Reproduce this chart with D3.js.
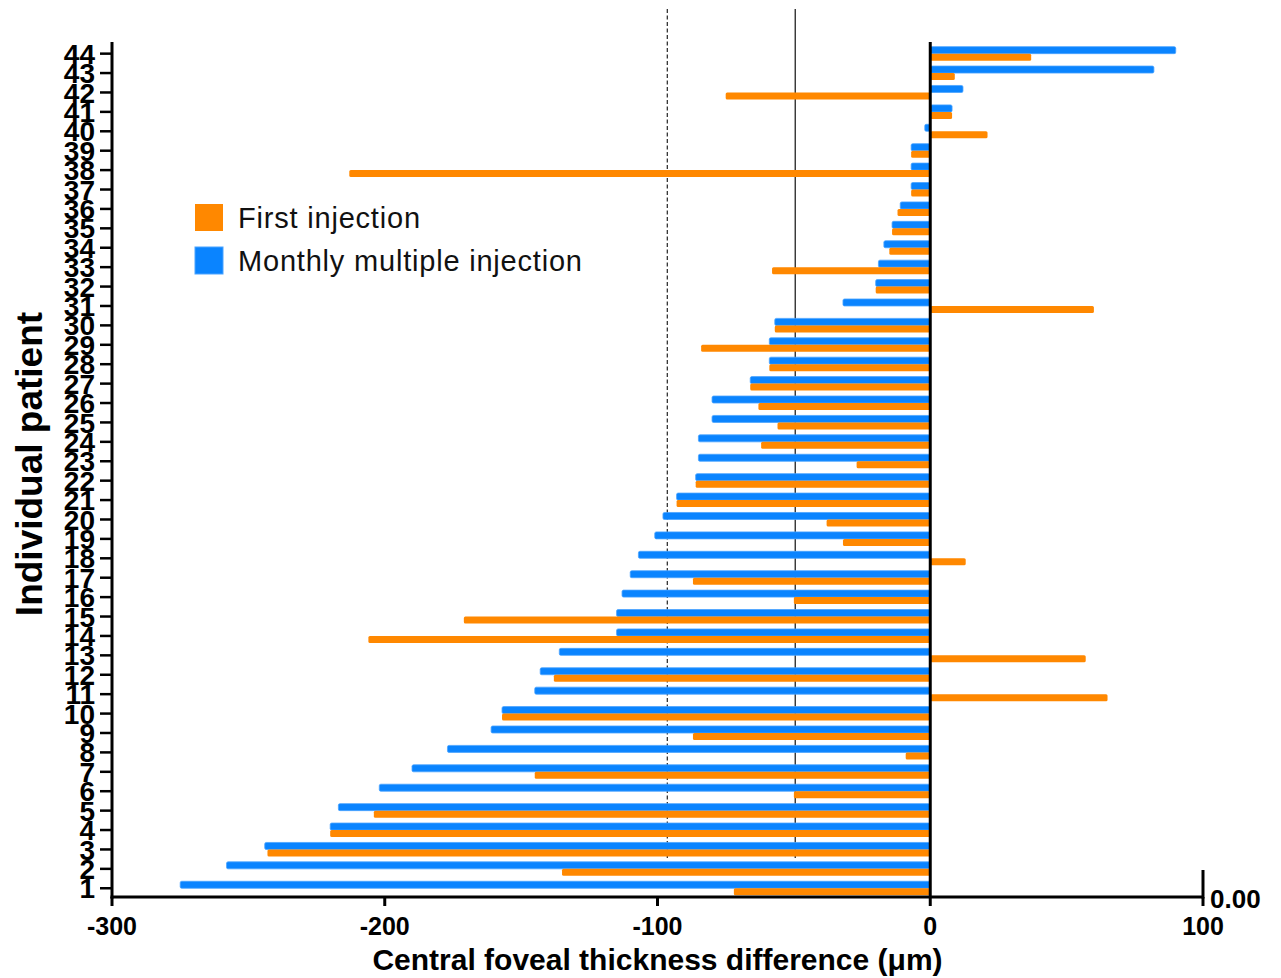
<!DOCTYPE html>
<html>
<head>
<meta charset="utf-8">
<script src="https://cdn.jsdelivr.net/npm/d3@7"></script>
<style>
  body { margin: 0; background: #fff; }
  text { font-family: "Liberation Sans", Arial, sans-serif; }
</style>
</head>
<body>
<div id="chart"></div>
<script>
var patients = d3.range(1, 45);
// patient 1 .. 44
var firstInjection = [-72,-135,-243,-220,-204,-50,-145,-9,-87,-157,65,-138,57,-206,-171,-50,-87,13,-32,-38,
  -93,-86,-27,-62,-56,-63,-66,-59,-84,-57,60,-20,-58,-15,-14,-12,-7,-213,-7,21,8,-75,9,37];
var monthlyInjection = [-275,-258,-244,-220,-217,-202,-190,-177,-161,-157,-145,-143,-136,-115,-115,-113,-110,-107,-101,-98,
  -93,-86,-85,-85,-80,-80,-66,-59,-59,-57,-32,-20,-19,-17,-14,-11,-7,-7,-7,-2,8,12,82,90];
var xTicks = [-300, -200, -100, 0, 100];
var seriesNames = ["First injection", "Monthly multiple injection"];
var colors = ["#ff8800", "#0a84ff"];
var refLines = [-96.4, -49.5];

var width = 1281, height = 978;
var barH = 7;

var x = d3.scaleLinear().domain([-300, 100]).range([112, 1203]);
var y = d3.scaleLinear().domain([0.55, 44.6]).range([897, 42]);

var svg = d3.select("#chart").append("svg")
  .attr("width", width)
  .attr("height", height);

// reference lines (dashed / solid)
svg.append("line")
  .attr("x1", x(refLines[0])).attr("x2", x(refLines[0]))
  .attr("y1", y(2.56)).attr("y2", y(46.3))
  .attr("stroke", "#333").attr("stroke-width", 1.3)
  .attr("stroke-dasharray", "4,2.5");
svg.append("line")
  .attr("x1", x(refLines[1])).attr("x2", x(refLines[1]))
  .attr("y1", y(2.56)).attr("y2", y(46.3))
  .attr("stroke", "#222").attr("stroke-width", 1.3);

// bars
function drawBars(vals, color, offset, stroke){
  svg.append("g").selectAll("rect")
    .data(vals)
    .join("rect")
      .attr("x", d => Math.min(x(0), x(d)))
      .attr("width", d => Math.abs(x(d) - x(0)))
      .attr("y", (d, i) => y(patients[i]) + offset - barH / 2)
      .attr("height", barH)
      .attr("rx", 1.5)
      .attr("fill", color)
      .attr("stroke", stroke)
      .attr("stroke-width", stroke ? 0.8 : 0);
}
drawBars(monthlyInjection, colors[1], -3.5, "#4aa3ff");
drawBars(firstInjection, colors[0], 3.5, null);

// zero line
svg.append("line")
  .attr("x1", x(0)).attr("x2", x(0))
  .attr("y1", y(44.6)).attr("y2", y(0.55))
  .attr("stroke", "#000").attr("stroke-width", 3);

// y axis
var yAxis = svg.append("g")
  .attr("transform", `translate(${x(-300)},0)`);
yAxis.append("line")
  .attr("x1", 0).attr("x2", 0)
  .attr("y1", y(44.6)).attr("y2", y(0.55) + 1.5)
  .attr("stroke", "#000").attr("stroke-width", 3);
yAxis.selectAll(".tick")
  .data(patients)
  .join("g")
    .attr("transform", d => `translate(0,${y(d)})`)
    .call(g => g.append("line")
      .attr("x1", -12).attr("x2", 0)
      .attr("stroke", "#000").attr("stroke-width", 2.5))
    .call(g => g.append("text")
      .attr("x", -17)
      .attr("dy", "0.36em")
      .attr("text-anchor", "end")
      .attr("font-size", 28)
      .attr("font-weight", "bold")
      .text(d => d));

// x axis
var xAxis = svg.append("g")
  .attr("transform", `translate(0,${y(0.55)})`);
xAxis.append("line")
  .attr("x1", x(-300) - 1.5).attr("x2", x(100))
  .attr("stroke", "#000").attr("stroke-width", 3);
xAxis.selectAll(".tick")
  .data(xTicks)
  .join("g")
    .attr("transform", d => `translate(${x(d)},0)`)
    .call(g => g.append("line")
      .attr("y1", 0).attr("y2", 9)
      .attr("stroke", "#000").attr("stroke-width", 3))
    .call(g => g.append("text")
      .attr("y", 38)
      .attr("text-anchor", "middle")
      .attr("font-size", 25)
      .attr("font-weight", "bold")
      .text(d => d));

// small right axis stub with 0.00
svg.append("line")
  .attr("x1", x(100)).attr("x2", x(100))
  .attr("y1", y(0.55) - 27).attr("y2", y(0.55) + 1.5)
  .attr("stroke", "#000").attr("stroke-width", 3);
svg.append("text")
  .attr("x", x(100) + 7)
  .attr("y", y(0.55) + 11)
  .attr("font-size", 26)
  .attr("font-weight", "bold")
  .text("0.00");

// axis titles
svg.append("text")
  .attr("x", x(-100))
  .attr("y", 970)
  .attr("text-anchor", "middle")
  .attr("font-size", 30)
  .attr("font-weight", "bold")
  .text("Central foveal thickness difference (\u03bcm)");

svg.append("text")
  .attr("transform", `translate(42,464) rotate(-90)`)
  .attr("text-anchor", "middle")
  .attr("font-size", 37)
  .attr("font-weight", "bold")
  .text("Individual patient");

// legend
var legend = svg.append("g").attr("transform", "translate(195,204)");
seriesNames.forEach(function(name, i){
  var row = legend.append("g").attr("transform", `translate(0,${i * 43})`);
  row.append("rect")
    .attr("width", 28).attr("height", 27)
    .attr("fill", colors[i])
    .attr("stroke", i == 1 ? "#4aa3ff" : "none");
  row.append("text")
    .attr("x", 43).attr("y", 24)
    .attr("font-size", 29)
    .attr("letter-spacing", 0.8)
    .attr("fill", "#111")
    .text(name);
});
</script>
</body>
</html>
